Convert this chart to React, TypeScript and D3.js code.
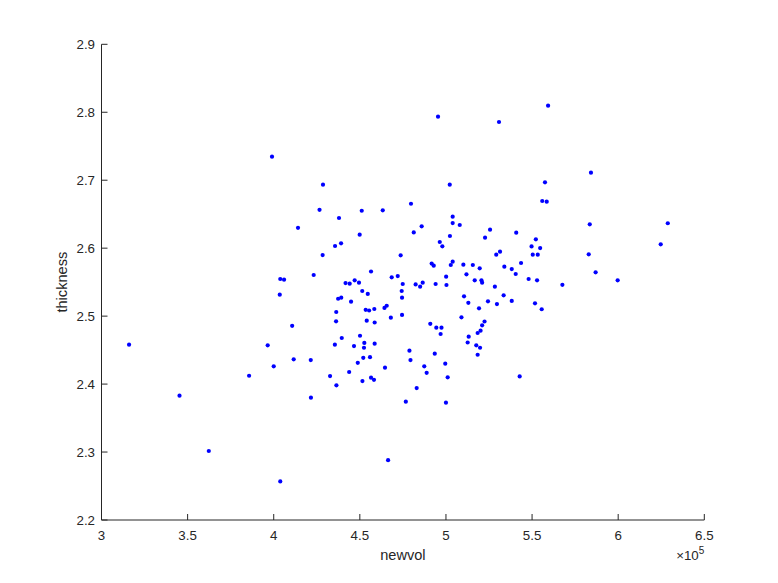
import React from "react";
import * as d3 from "d3";

const newvol: number[] = [
  399000, 428600, 426600, 414100, 428400, 423200, 403800, 406000, 403500, 495400,
  530800, 502200, 479700, 437900, 451100, 463300, 503900, 503900, 508000, 485900,
  525600, 481300, 449900, 502300, 522700, 496400, 439100, 435600, 497900, 529200,
  531400, 473700, 491700, 492900, 502800, 503900, 510100, 515600, 519600, 456500,
  511900, 468500, 472000, 500100, 516700, 520600, 521000, 441700, 444100, 447000,
  449500, 474900, 482400, 485000, 486500, 494000, 500300, 528400, 451400, 454600,
  474300, 474500, 510500, 437400, 439200, 559300, 584200, 557500, 555900, 558500,
  583500, 628800, 540800, 552200, 549700, 554700, 550400, 553300, 582900, 624700,
  543600, 533900, 538200, 540500, 586900, 548000, 552900, 599700, 567600, 533500,
  316000, 345300, 362300, 385700, 396500, 400000, 410700, 411600, 421500, 421600,
  403800, 432700, 444900, 436300, 436200, 453400, 455400, 458400, 464300, 465600,
  454000, 458600, 468000, 474500, 439500, 435500, 450100, 446600, 452600, 452400,
  458600, 452000, 455900, 448800, 443800, 436400, 451500, 456500, 458200, 464600,
  478800, 479400, 490900, 494400, 497400, 496900, 493500, 487400, 488800, 499600,
  501000, 483000, 476700, 500000, 466400, 513000, 519200, 524400, 529600, 509000,
  522400, 521000, 520100, 518400, 513200, 512600, 517600, 519800, 518400, 538200,
  551700, 555600, 542800,
];

const thickness: number[] = [
  2.7346, 2.6934, 2.6565, 2.63, 2.5899, 2.5605, 2.5546, 2.5536, 2.5315, 2.7935,
  2.7857, 2.6934, 2.6654, 2.6444, 2.6551, 2.6557, 2.6463, 2.637, 2.6341, 2.6322,
  2.6272, 2.6231, 2.6198, 2.6179, 2.6154, 2.6091, 2.6072, 2.6032, 2.6027, 2.5904,
  2.5948, 2.5895, 2.5774, 2.5742, 2.5752, 2.5801, 2.5757, 2.5752, 2.5704, 2.5657,
  2.5615, 2.5571, 2.559, 2.558, 2.5527, 2.5527, 2.5492, 2.5487, 2.5477, 2.5527,
  2.5492, 2.5473, 2.5467, 2.5433, 2.5492, 2.5473, 2.5458, 2.5433, 2.537, 2.5326,
  2.537, 2.5271, 2.5292, 2.5256, 2.5271, 2.8097, 2.7111, 2.6969, 2.6694, 2.6684,
  2.6351, 2.6367, 2.6228, 2.613, 2.6025, 2.6002, 2.5904, 2.5904, 2.591, 2.6057,
  2.5782, 2.5727, 2.5693, 2.562, 2.5645, 2.5546, 2.5527, 2.5527, 2.5461, 2.5306,
  2.458, 2.3829, 2.3015, 2.4123, 2.4571, 2.4262, 2.4858, 2.4365, 2.4354, 2.38,
  2.2567, 2.4118, 2.5212, 2.5061, 2.4924, 2.5093, 2.5083, 2.5105, 2.512, 2.5153,
  2.4933, 2.4906, 2.4977, 2.5017, 2.4678, 2.458, 2.4711, 2.456, 2.4605, 2.4535,
  2.4594, 2.4387, 2.4396, 2.4313, 2.4178, 2.3982, 2.4045, 2.4094, 2.4063, 2.4241,
  2.4491, 2.4354, 2.4887, 2.483, 2.483, 2.4737, 2.4447, 2.4262, 2.4166, 2.43,
  2.41, 2.3942, 2.3741, 2.3726, 2.288, 2.5196, 2.5115, 2.5218, 2.5178, 2.4983,
  2.4921, 2.4865, 2.4786, 2.4752, 2.4697, 2.4612, 2.4571, 2.4535, 2.4432, 2.5223,
  2.5189, 2.5101, 2.4112,
];

const xTicks: number[] = [300000, 350000, 400000, 450000, 500000, 550000, 600000, 650000];
const yTicks: number[] = [2.2, 2.3, 2.4, 2.5, 2.6, 2.7, 2.8, 2.9];

const W = 778;
const H = 583;
const left = 101.5;
const right = 704.3;
const top = 44.3;
const bottom = 520;
const ink = "#262626";
const font = "'Liberation Sans', Arial, Helvetica, sans-serif";

export default function App() {
  const x = d3.scaleLinear().domain([300000, 650000]).range([left, right]);
  const y = d3.scaleLinear().domain([2.2, 2.9]).range([bottom, top]);
  const tl = 6;
  return (
    <div style={{ position: "fixed", left: 0, top: 0, width: W, height: H, background: "#fff" }}>
      <svg width={W} height={H} style={{ display: "block" }}>
        <rect x={0} y={0} width={W} height={H} fill="#fff" />
        {newvol.map((v, i) => (
          <circle key={i} cx={x(v)} cy={y(thickness[i])} r={2.1} fill="#0000ff" />
        ))}
        <line x1={left} x2={right} y1={bottom} y2={bottom} stroke={ink} strokeWidth={1} />
        <line x1={left} x2={left} y1={top} y2={bottom} stroke={ink} strokeWidth={1} />
        {xTicks.map((t) => (
          <g key={"x" + t}>
            <line x1={x(t)} x2={x(t)} y1={bottom} y2={bottom - tl} stroke={ink} strokeWidth={1} />
            <text x={x(t)} y={bottom + 20} textAnchor="middle" fontFamily={font} fontSize={13.3} fill={ink}>
              {d3.format("~g")(t / 100000)}
            </text>
          </g>
        ))}
        {yTicks.map((t) => (
          <g key={"y" + t}>
            <line x1={left} x2={left + tl} y1={y(t)} y2={y(t)} stroke={ink} strokeWidth={1} />
            <text x={left - 6.5} y={y(t) + 4.7} textAnchor="end" fontFamily={font} fontSize={13.3} fill={ink}>
              {d3.format(".1f")(t)}
            </text>
          </g>
        ))}
        <text x={(left + right) / 2} y={560} textAnchor="middle" fontFamily={font} fontSize={14.6} fill={ink}>
          newvol
        </text>
        <text
          transform={`translate(67, ${(top + bottom) / 2}) rotate(-90)`}
          textAnchor="middle"
          fontFamily={font}
          fontSize={14.6}
          fill={ink}
        >
          thickness
        </text>
        <text x={right} y={560} textAnchor="end" fontFamily={font} fontSize={13.3} fill={ink}>
          <tspan>×10</tspan>
          <tspan dy={-6} fontSize={10}>5</tspan>
        </text>
      </svg>
    </div>
  );
}
